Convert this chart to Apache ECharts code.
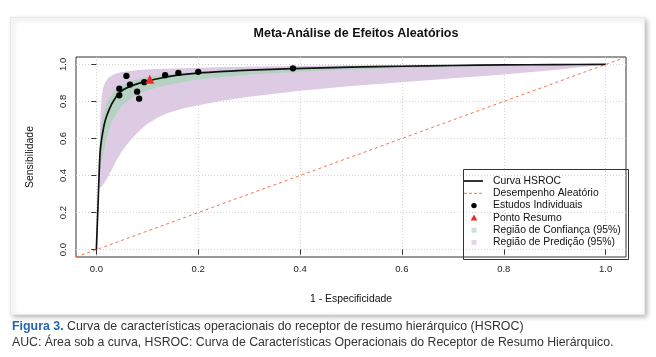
<!DOCTYPE html>
<html><head><meta charset="utf-8">
<script src="https://cdn.jsdelivr.net/npm/echarts@6/dist/echarts.min.js"></script>
<style>html,body{margin:0;padding:0;background:#fff;}#c{width:656px;height:357px;}</style>
</head><body><div id="c"></div>
<script>
// ---- data ----
const tickValues = [0, 0.2, 0.4, 0.6, 0.8, 1.0];

const studiesX = [0.045, 0.045, 0.059, 0.066, 0.080, 0.084, 0.094, 0.135, 0.161, 0.200, 0.386];
const studiesY = [0.869, 0.833, 0.938, 0.891, 0.853, 0.815, 0.904, 0.942, 0.954, 0.960, 0.979];

const summaryX = [0.105];
const summaryY = [0.920];

const curveX = [0, 0.002, 0.004, 0.006, 0.0075, 0.010, 0.015, 0.020, 0.030, 0.040, 0.050, 0.065, 0.080, 0.100, 0.130, 0.160, 0.200, 0.250, 0.300, 0.386, 0.500, 0.600, 0.700, 0.800, 0.900, 1.000];
const curveY = [0, 0.150, 0.300, 0.450, 0.530, 0.590, 0.670, 0.720, 0.785, 0.830, 0.858, 0.880, 0.895, 0.910, 0.928, 0.942, 0.953, 0.962, 0.969, 0.977, 0.985, 0.990, 0.994, 0.997, 0.999, 1.000];

const diagX = [-0.04, 1.04];
const diagY = [-0.04, 1.04];

const predUpperX = [0.006, 0.0065, 0.007, 0.0085, 0.0104, 0.0135, 0.0173, 0.022, 0.028, 0.037, 0.048, 0.070, 0.097, 0.150, 0.235, 0.350, 0.443, 0.550, 0.650, 0.800, 1.000];
const predUpperY = [0.330, 0.500, 0.640, 0.750, 0.830, 0.875, 0.904, 0.922, 0.936, 0.949, 0.958, 0.966, 0.972, 0.978, 0.985, 0.990, 0.994, 0.996, 0.998, 0.999, 1.000];
const predLowerX = [0.006, 0.010, 0.020, 0.030, 0.040, 0.050, 0.060, 0.070, 0.080, 0.090, 0.100, 0.120, 0.140, 0.170, 0.200, 0.250, 0.300, 0.400, 0.500, 0.600, 0.700, 0.800, 0.900, 1.000];
const predLowerY = [0.330, 0.340, 0.380, 0.430, 0.485, 0.530, 0.568, 0.600, 0.630, 0.655, 0.678, 0.712, 0.737, 0.762, 0.780, 0.805, 0.825, 0.858, 0.883, 0.904, 0.925, 0.946, 0.970, 1.000];

const confUpperX = [0.004, 0.006, 0.010, 0.020, 0.035, 0.060, 0.100, 0.150, 0.200, 0.300, 0.500, 0.700, 1.000];
const confUpperY = [0.400, 0.550, 0.680, 0.790, 0.857, 0.903, 0.932, 0.950, 0.960, 0.972, 0.986, 0.994, 1.000];
const confLowerX = [0.004, 0.012, 0.020, 0.030, 0.050, 0.080, 0.120, 0.200, 0.300, 0.400, 0.500, 0.700, 1.000];
const confLowerY = [0.400, 0.500, 0.600, 0.690, 0.780, 0.840, 0.878, 0.920, 0.945, 0.960, 0.972, 0.988, 1.000];

const legendNames = ['Curva HSROC', 'Desempenho Aleatório', 'Estudos Individuais', 'Ponto Resumo', 'Região de Confiança (95%)', 'Região de Predição (95%)'];

const titleText = 'Meta-Análise de Efeitos Aleatórios';
const xName = '1 - Especificidade';
const yName = 'Sensibilidade';
const captionBold = 'Figura 3.';
const captionLine1 = 'Curva de características operacionais do receptor de resumo hierárquico (HSROC)';
const captionLine2 = 'AUC: Área sob a curva, HSROC: Curva de Características Operacionais do Receptor de Resumo Hierárquico.';

// ---- build ----
const zip = (xs, ys) => xs.map((x, i) => [x, ys[i]]);
const FONT = "'Liberation Sans', Arial, Helvetica, sans-serif";
const PURPLE = '#dccbe3';
const GREEN = '#b4d1c1';
const RED = '#f3714f';

function region(name, upX, upY, loX, loY, color, z) {
  return {
    type: 'custom', name: name, coordinateSystem: 'cartesian2d', silent: true, z: z,
    itemStyle: { color: color },
    data: [[upX[0], upY[0]]],
    renderItem: function (params, api) {
      const pts = [];
      for (let i = 0; i < upX.length; i++) pts.push(api.coord([upX[i], upY[i]]));
      for (let i = loX.length - 1; i >= 0; i--) pts.push(api.coord([loX[i], loY[i]]));
      return { type: 'polygon', shape: { points: pts }, style: { fill: color } };
    }
  };
}

const axisCommon = {
  type: 'value', min: -0.04, max: 1.04,
  axisLine: { show: false },
  axisTick: { show: true, customValues: tickValues, length: 5, lineStyle: { color: '#333', width: 1 } },
  axisLabel: { customValues: tickValues, formatter: v => v.toFixed(1), color: '#222', fontSize: 9.5, fontFamily: FONT },
  splitLine: { show: true, lineStyle: { color: '#d4d4d4', width: 1, type: [1, 2] } },
  nameLocation: 'middle',
  nameTextStyle: { color: '#111', fontSize: 10.4, fontFamily: FONT }
};

// legend drawn as graphic elements (icon + text)
const LX = 474, TX = 493, ROW0 = 181, ROWH = 12.3;
const legendGraphics = [
  { type: 'rect', left: 461, top: 167, z: 50, silent: true,
    shape: { width: 165, height: 90 }, style: { fill: 'none', stroke: '#333', lineWidth: 1 } }
];
legendNames.forEach(function (nm, i) {
  const cy = ROW0 + i * ROWH;
  legendGraphics.push({ type: 'text', x: TX, y: cy, z: 50, silent: true,
    style: { text: nm, fill: '#111', fontSize: 10.4, fontFamily: FONT, verticalAlign: 'middle', align: 'left' } });
  let icon;
  if (i === 0) icon = { type: 'line', shape: { x1: 464, y1: cy, x2: 483, y2: cy }, style: { stroke: '#111', lineWidth: 1.7 } };
  else if (i === 1) icon = { type: 'line', shape: { x1: 464, y1: cy, x2: 484, y2: cy }, style: { stroke: RED, lineWidth: 1, lineDash: [3, 2] } };
  else if (i === 2) icon = { type: 'circle', shape: { cx: LX, cy: cy, r: 2.7 }, style: { fill: '#000' } };
  else if (i === 3) icon = { type: 'polygon', shape: { points: [[LX, cy - 3.3], [LX - 3.3, cy + 2.5], [LX + 3.3, cy + 2.5]] }, style: { fill: '#ee2b2b' } };
  else if (i === 4) icon = { type: 'rect', shape: { x: LX - 2.5, y: cy - 2.5, width: 5, height: 5 }, style: { fill: '#cde2d5' } };
  else icon = { type: 'rect', shape: { x: LX - 2.5, y: cy - 2.5, width: 5, height: 5 }, style: { fill: '#e3d6ea' } };
  icon.z = 50; icon.silent = true;
  legendGraphics.push(icon);
});

const chart = echarts.init(document.getElementById('c'), null, { renderer: 'canvas' });
chart.setOption({
  animation: false,
  backgroundColor: '#fff',
  title: {
    text: titleText, left: 351, top: 22, textAlign: 'center',
    textStyle: { fontSize: 12.5, fontWeight: 'bold', color: '#111', fontFamily: FONT }
  },
  grid: { left: 76, top: 57, width: 550, height: 200, show: true, borderColor: '#333', borderWidth: 1, backgroundColor: 'transparent' },
  xAxis: Object.assign({}, axisCommon, {
    name: xName, nameGap: 37,
    axisLabel: Object.assign({}, axisCommon.axisLabel, { margin: 7 })
  }),
  yAxis: Object.assign({}, axisCommon, {
    name: yName, nameGap: 41,
    axisLabel: Object.assign({}, axisCommon.axisLabel, { rotate: 90, margin: 8 })
  }),
  graphic: [
    { type: 'rect', left: 10, top: 17, z: -100, silent: true,
      shape: { width: 634, height: 297 },
      style: { fill: '#fff', stroke: '#e8e8e8', lineWidth: 1, shadowBlur: 5, shadowColor: 'rgba(0,0,0,0.28)', shadowOffsetX: 2, shadowOffsetY: 2 } },
    { type: 'text', left: 12, top: 321, silent: true,
      style: {
        text: '{b|' + captionBold + '} {n|' + captionLine1 + '}',
        rich: {
          b: { fill: '#2466ad', fontWeight: 'bold', fontSize: 12.4, fontFamily: FONT },
          n: { fill: '#333', fontSize: 12.4, fontFamily: FONT }
        }
      } },
    { type: 'text', left: 12, top: 337, silent: true,
      style: { text: captionLine2, fill: '#333', fontSize: 12.3, fontFamily: FONT } }
  ].concat(legendGraphics),
  series: [
    region(legendNames[5], predUpperX, predUpperY, predLowerX, predLowerY, PURPLE, 1),
    region(legendNames[4], confUpperX, confUpperY, confLowerX, confLowerY, GREEN, 2),
    { type: 'line', name: legendNames[1], data: zip(diagX, diagY), symbol: 'none', z: 3, silent: true,
      lineStyle: { color: RED, width: 1, type: [3, 3] }, itemStyle: { color: RED } },
    { type: 'line', name: legendNames[0], data: zip(curveX, curveY), symbol: 'none', smooth: 0.3, z: 4, silent: true,
      lineStyle: { color: '#111', width: 1.7 }, itemStyle: { color: '#111' } },
    { type: 'scatter', name: legendNames[2], data: zip(studiesX, studiesY), symbol: 'circle', symbolSize: 6.3, z: 5, silent: true,
      itemStyle: { color: '#000', opacity: 1 } },
    { type: 'scatter', name: legendNames[3], data: zip(summaryX, summaryY), symbol: 'triangle', symbolSize: 9, z: 6, silent: true,
      itemStyle: { color: '#ee2b2b', opacity: 1 } }
  ]
});
</script></body></html>
